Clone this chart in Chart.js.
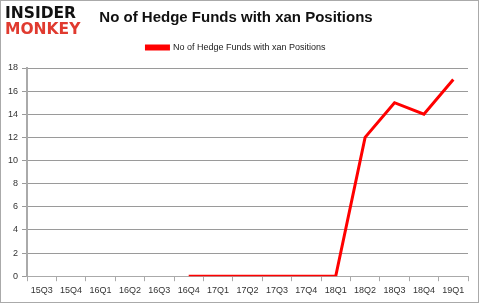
<!DOCTYPE html>
<html>
<head>
<meta charset="utf-8">
<script src="https://cdn.jsdelivr.net/npm/chart.js@4"></script>
<style>
  body { margin: 0; background: #fff; }
  #wrap { position: relative; width: 479px; height: 303px; box-sizing: border-box; border: 1px solid #aaa; }
  #wrap canvas { position: absolute; left: 0; top: 0; }
  .logo { position: absolute; left: 4px; font-family: "DejaVu Sans", sans-serif; font-weight: bold; font-size: 15.5px; letter-spacing: 0px; line-height: 16px; }
  .logo.a { top: 4px; color: #111; }
  .logo.b { top: 20px; color: #e03a2f; }
</style>
</head>
<body>
<div id="wrap">
  <canvas id="chart" width="477" height="301"></canvas>
  <div class="logo a">INSIDER</div>
  <div class="logo b">MONKEY</div>
</div>
<script>
// 四半期ラベルと値
var quarters = ['15Q3', '15Q4', '16Q1', '16Q2', '16Q3', '16Q4', '17Q1', '17Q2', '17Q3', '17Q4', '18Q1', '18Q2', '18Q3', '18Q4', '19Q1'];
var fundCounts = [null, null, null, null, null, 0, 0, 0, 0, 0, 0, 12, 15, 14, 17];
var seriesName = 'No of Hedge Funds with xan Positions';
var yTicks = [0, 2, 4, 6, 8, 10, 12, 14, 16, 18];

var tickFont = { family: 'Liberation Sans', size: 9 };

// 凡例の下に少し余白を足す
var legendGap = {
  id: 'legendGap',
  beforeInit: function(chart) {
    var fit = chart.legend.fit;
    chart.legend.fit = function() {
      fit.bind(chart.legend)();
      this.height += 6;
    };
  }
};

new Chart(document.getElementById('chart').getContext('2d'), {
  type: 'line',
  data: {
    labels: quarters,
    datasets: [{
      label: seriesName,
      data: fundCounts,
      borderColor: '#ff0000',
      backgroundColor: '#ff0000',
      borderWidth: 3,
      pointRadius: 0,
      tension: 0,
      spanGaps: false
    }]
  },
  options: {
    responsive: false,
    animation: false,
    layout: { padding: { left: 3, right: 10, top: 4, bottom: 2 } },
    plugins: {
      title: {
        display: true,
        text: seriesName,
        color: '#111',
        font: { family: 'Liberation Sans', size: 15, weight: 'bold' },
        padding: { top: 4, bottom: 8 }
      },
      legend: {
        labels: {
          boxWidth: 22,
          boxHeight: 3,
          color: '#222',
          font: { family: 'Liberation Sans', size: 9 },
          padding: 8
        }
      },
      tooltip: { enabled: false }
    },
    scales: {
      x: {
        offset: true,
        grid: { offset: true, drawOnChartArea: false, color: '#aaa', tickLength: 5 },
        border: { color: '#aaa', width: 1 },
        ticks: { color: '#333', font: tickFont, maxRotation: 0, autoSkip: false, padding: 4 }
      },
      y: {
        min: 0,
        max: 18,
        afterBuildTicks: function(axis) { axis.ticks = yTicks.map(function(v) { return { value: v }; }); },
        grid: { color: '#9a9a9a', tickLength: 5 },
        border: { color: '#aaa', width: 2 },
        ticks: { color: '#333', font: tickFont, padding: 4 }
      }
    }
  },
  plugins: [legendGap]
});
</script>
</body>
</html>
